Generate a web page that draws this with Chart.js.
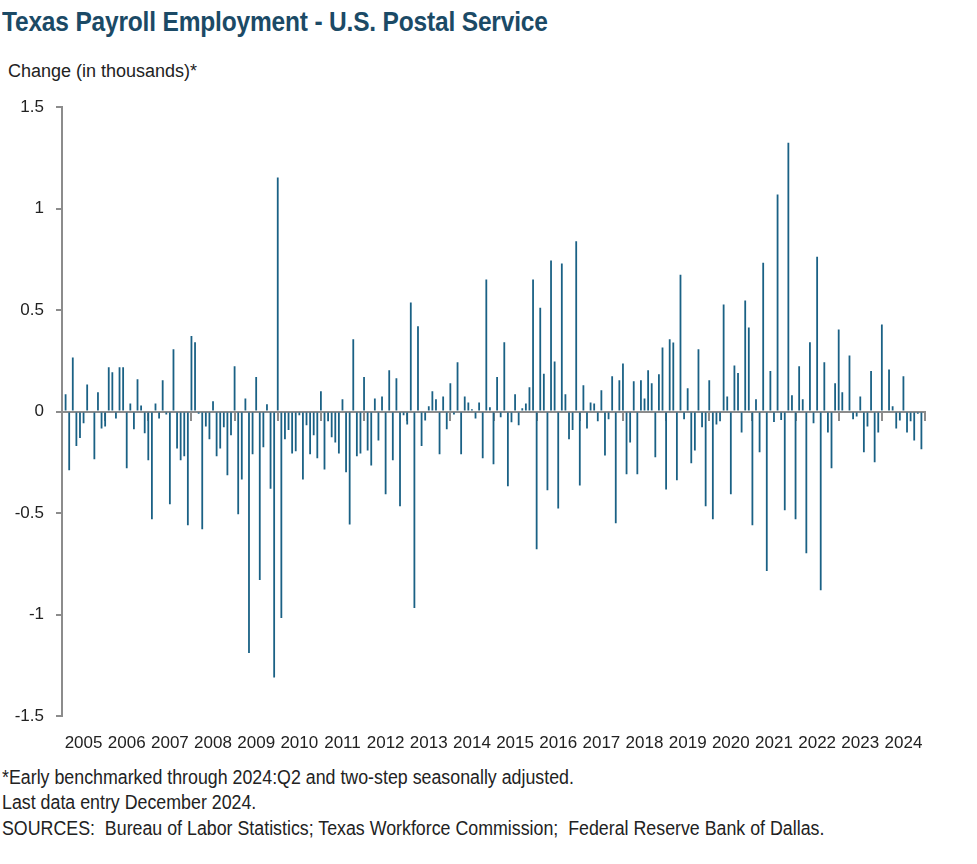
<!DOCTYPE html>
<html>
<head>
<meta charset="utf-8">
<script src="https://cdn.jsdelivr.net/npm/chart.js@4.4.1/dist/chart.umd.min.js"></script>
<style>
  body { margin: 0; background: #fff; width: 977px; height: 864px; position: relative; overflow: hidden; }
  #title { position: absolute; left: 2px; top: 6px; font: bold 28px "Liberation Sans", Arial, sans-serif; color: #1b4a66; white-space: nowrap; transform: scaleX(0.875); transform-origin: 0 0; letter-spacing: -0.2px; }
  #ylabel { position: absolute; left: 8px; top: 61px; font: 18px "Liberation Sans", Arial, sans-serif; color: #222; white-space: nowrap; }
  #wrap { position: absolute; left: 0; top: 85px; width: 977px; height: 680px; }
  .note { position: absolute; left: 2px; font: 20px "Liberation Sans", Arial, sans-serif; color: #222; white-space: nowrap; transform: scaleX(0.89); transform-origin: 0 0; }
</style>
</head>
<body>
<div id="title">Texas Payroll Employment - U.S. Postal Service</div>
<div id="ylabel">Change (in thousands)*</div>
<div id="wrap"><canvas id="chart" width="977" height="680"></canvas></div>
<div class="note" style="top:766px">*Early benchmarked through 2024:Q2 and two-step seasonally adjusted.</div>
<div class="note" style="top:791px">Last data entry December 2024.</div>
<div class="note" style="top:817px">SOURCES:&nbsp; Bureau of Labor Statistics; Texas Workforce Commission;&nbsp; Federal Reserve Bank of Dallas.</div>
<script>
// monthly change in thousands, Jan..Dec of each year (Jan 2005 has no value)
const years = [2005, 2006, 2007, 2008, 2009, 2010, 2011, 2012, 2013, 2014, 2015, 2016, 2017, 2018, 2019, 2020, 2021, 2022, 2023, 2024];
const y2005 = [null, 0.085, -0.289, 0.267, -0.17, -0.13, -0.057, 0.134, 0.006, -0.235, 0.095, -0.083];
const y2006 = [-0.073, 0.218, 0.194, -0.034, 0.218, 0.218, -0.279, 0.04, -0.087, 0.16, 0.03, -0.107];
const y2007 = [-0.24, -0.53, 0.04, -0.034, 0.154, -0.014, -0.457, 0.307, -0.182, -0.24, -0.22, -0.56];
const y2008 = [0.372, 0.342, -0.01, -0.58, -0.073, -0.136, 0.051, -0.22, -0.182, -0.077, -0.314, -0.117];
const y2009 = [0.224, -0.506, -0.334, 0.065, -1.19, -0.21, 0.17, -0.83, -0.176, 0.036, -0.38, -1.31];
const y2010 = [1.153, -1.017, -0.136, -0.091, -0.206, -0.196, -0.018, -0.334, -0.067, -0.21, -0.117, -0.23];
const y2011 = [0.1, -0.285, -0.047, -0.127, -0.152, -0.206, 0.061, -0.299, -0.556, 0.356, -0.22, -0.206];
const y2012 = [0.17, -0.192, -0.265, 0.065, -0.142, 0.075, -0.407, 0.204, -0.24, 0.164, -0.467, -0.018];
const y2013 = [-0.063, 0.538, -0.968, 0.421, -0.17, -0.044, 0.026, 0.1, 0.061, -0.21, 0.075, -0.087];
const y2014 = [0.14, -0.014, 0.243, -0.21, 0.075, 0.045, 0.012, -0.034, 0.045, -0.23, 0.651, 0.022];
const y2015 = [-0.259, 0.17, -0.028, 0.342, -0.368, -0.053, 0.085, -0.067, 0.016, 0.04, 0.12, 0.651];
const y2016 = [-0.678, 0.512, 0.186, -0.388, 0.744, 0.247, -0.477, 0.73, 0.085, -0.136, -0.091, 0.839];
const y2017 = [-0.364, 0.13, -0.083, 0.045, 0.04, -0.047, 0.105, -0.216, -0.038, 0.174, -0.55, 0.154];
const y2018 = [0.237, -0.309, -0.152, 0.15, -0.309, 0.154, 0.065, 0.204, 0.14, -0.225, 0.184, 0.316];
const y2019 = [-0.384, 0.356, 0.34, -0.338, 0.674, -0.038, 0.115, -0.255, -0.192, 0.307, -0.077, -0.467];
const y2020 = [0.154, -0.53, -0.063, -0.047, 0.528, 0.075, -0.407, 0.227, 0.19, -0.103, 0.548, 0.415];
const y2021 = [-0.56, 0.061, -0.2, 0.734, -0.786, 0.2, -0.051, 1.07, -0.042, -0.486, 1.325, 0.081];
const y2022 = [-0.53, 0.224, 0.061, -0.698, 0.342, -0.057, 0.763, -0.88, 0.243, -0.103, -0.279, 0.14];
const y2023 = [0.405, 0.095, 0.006, 0.277, -0.038, -0.024, 0.075, -0.2, -0.073, 0.2, -0.249, -0.103];
const y2024 = [0.429, 0.005, 0.208, 0.026, -0.083, -0.044, 0.174, -0.103, -0.047, -0.142, -0.01, -0.186];
const yTicks = [-1.5, -1, -0.5, 0, 0.5, 1, 1.5];

const values = [y2005, y2006, y2007, y2008, y2009, y2010, y2011, y2012, y2013, y2014,
  y2015, y2016, y2017, y2018, y2019, y2020, y2021, y2022, y2023, y2024].flat();
values.push(null); // Jan 2025, closes the axis

const labels = [];
years.forEach((yr) => { for (let m = 1; m <= 12; m++) labels.push(yr + "-" + String(m).padStart(2, "0")); });
labels.push("2025-01");

const GRAY = "#8c8c8c";
const yearTick = (c) => (c.index % 12 === 0 ? GRAY : "rgba(0,0,0,0)");

new Chart(document.getElementById("chart"), {
  type: "bar",
  data: {
    labels,
    datasets: [{ data: values, backgroundColor: "#1a6185", barPercentage: 0.5, categoryPercentage: 1 }],
  },
  options: {
    responsive: false,
    animation: false,
    layout: { padding: { top: 8, right: 52, left: 0, bottom: 0 } },
    plugins: { legend: { display: false }, tooltip: { enabled: false } },
    scales: {
      x: {
        type: "category",
        offset: false,
        grid: { display: false, drawTicks: false },
        border: { display: false },
        ticks: {
          autoSkip: false, maxRotation: 0, padding: 17, color: "#222",
          font: { family: '"Liberation Sans", Arial, sans-serif', size: 17 },
          callback: (v, i) => (i % 12 === 6 ? labels[i].slice(0, 4) : ""),
        },
        afterFit: (s) => { s.height = 49; },
      },
      x2: {
        type: "category",
        labels,
        offset: false,
        position: { y: 0 },
        grid: {
          offset: false, drawOnChartArea: false, drawTicks: true, tickLength: 8, lineWidth: 2,
          color: yearTick, tickColor: yearTick, tickWidth: 2,
        },
        border: { color: GRAY, width: 2 },
        ticks: { display: false, autoSkip: false, maxRotation: 0 },
      },
      y: {
        min: -1.5, max: 1.5,
        afterBuildTicks: (s) => { s.ticks = yTicks.map((v) => ({ value: v })); },
        grid: { drawOnChartArea: false, tickLength: 6, lineWidth: 2, color: GRAY },
        border: { color: GRAY, width: 2 },
        ticks: { padding: 12, color: "#222", font: { family: '"Liberation Sans", Arial, sans-serif', size: 17 }, callback: (v) => String(v) },
        afterFit: (s) => { s.width = 62; },
      },
    },
  },
});
</script>
</body>
</html>
